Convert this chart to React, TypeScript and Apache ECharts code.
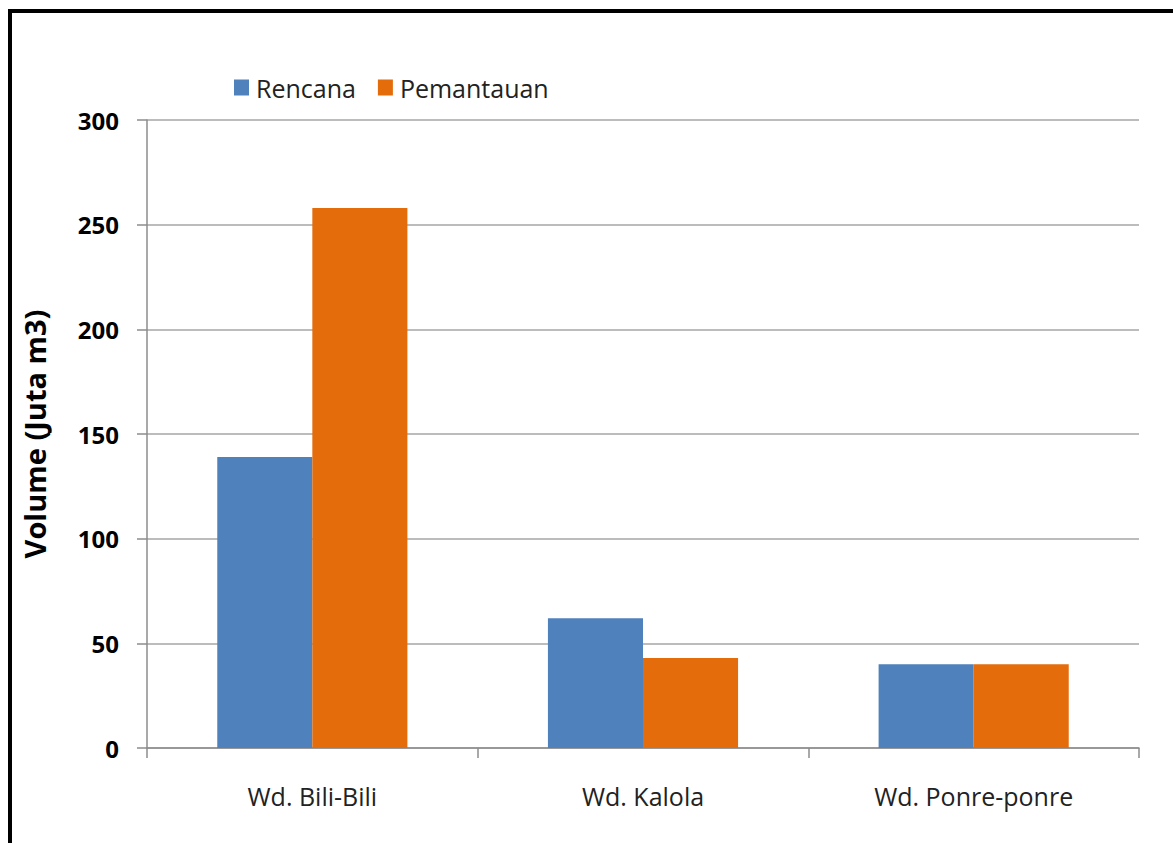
import React, { useEffect, useRef } from "react";
import * as echarts from "echarts";

const categories = ["Wd. Bili-Bili", "Wd. Kalola", "Wd. Ponre-ponre"];
const rencana = [139, 62, 40];
const pemantauan = [258, 43, 40];
const seriesNames = ["Rencana", "Pemantauan"];
const yAxisName = "Volume (Juta m3)";

export default function App() {
  const ref = useRef<HTMLDivElement>(null);
  useEffect(() => {
    if (!ref.current) return;
    const chart = echarts.init(ref.current, undefined, { renderer: "svg" });
    const font = "'Open Sans', 'Noto Sans', sans-serif";
    chart.setOption({
      animation: false,
      backgroundColor: "#ffffff",
      textStyle: { fontFamily: font },
      graphic: [
        {
          type: "rect",
          shape: { x: 10, y: 11, width: 1220, height: 900 },
          style: { fill: "none", stroke: "#000000", lineWidth: 4 },
          z: 100,
        },
      ],
      legend: {
        data: seriesNames,
        left: 229,
        top: 70,
        itemWidth: 15,
        itemHeight: 16,
        itemGap: 22,
        icon: "rect",
        textStyle: { fontSize: 25, color: "#222", fontFamily: font, padding: [0, 0, 0, 2] },
      },
      grid: { left: 147, right: 34, top: 120, bottom: 95, containLabel: false },
      xAxis: {
        type: "category",
        data: categories,
        axisLine: { show: true, lineStyle: { color: "#8c8c8c", width: 1.5 } },
        axisTick: { show: true, length: 10, alignWithLabel: false, lineStyle: { color: "#8c8c8c", width: 1.5 } },
        axisLabel: { fontSize: 25, color: "#222", margin: 35, fontFamily: font },
        splitLine: { show: false },
      },
      yAxis: {
        type: "value",
        min: 0,
        max: 300,
        interval: 50,
        name: yAxisName,
        nameLocation: "middle",
        nameGap: 98,
        nameTextStyle: { fontSize: 29, fontWeight: "bold", color: "#000", fontFamily: font },
        axisLine: { show: true, lineStyle: { color: "#8c8c8c", width: 1.5 } },
        axisTick: { show: true, length: 10, lineStyle: { color: "#8c8c8c", width: 1.5 } },
        axisLabel: { fontSize: 24, fontWeight: "bold", color: "#000", margin: 28, fontFamily: font },
        splitLine: { show: true, lineStyle: { color: "#a6a6a6", width: 1.5 } },
      },
      series: [
        {
          name: seriesNames[0],
          type: "bar",
          data: rencana,
          itemStyle: { color: "#4F81BD" },
          barGap: "0%",
          barCategoryGap: "42.5%",
        },
        {
          name: seriesNames[1],
          type: "bar",
          data: pemantauan,
          itemStyle: { color: "#E46C0A" },
          barGap: "0%",
          barCategoryGap: "42.5%",
        },
      ],
    });
    return () => chart.dispose();
  }, []);
  return (
    <div
      ref={ref}
      style={{ position: "absolute", left: 0, top: 0, width: 1173, height: 843 }}
    />
  );
}
